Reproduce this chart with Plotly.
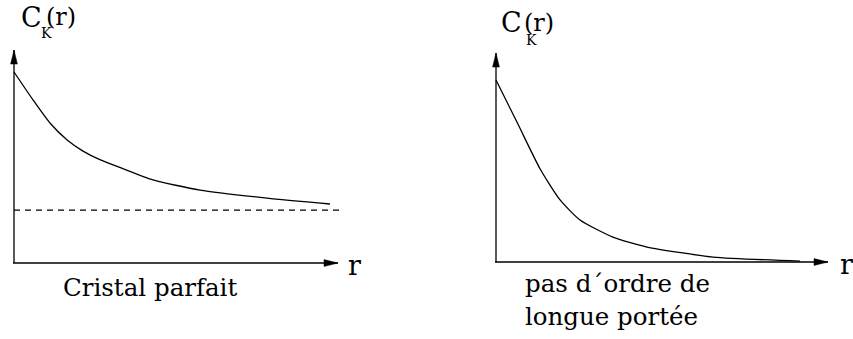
import plotly.graph_objects as go

W, H = 853, 339
FONT = "DejaVu Serif"
INK = "#000000"

# Correlation function C_K(r), perfect crystal (decays to a finite plateau)
r_crystal = [0.0, 0.59, 1.11, 1.64, 2.13, 2.65, 3.36, 4.29, 5.74, 7.81, 9.75]
c_crystal = [1.0, 0.853, 0.733, 0.644, 0.586, 0.541, 0.494, 0.435, 0.382, 0.340, 0.309]
plateau_r = [0.0, 10.06]
plateau_c = [0.277, 0.277]

# Correlation function C_K(r), no long-range order (decays to zero)
r_disorder = [0.0, 0.66, 1.33, 1.93, 2.53, 3.52, 4.55, 6.54, 9.16]
c_disorder = [1.0, 0.758, 0.511, 0.341, 0.231, 0.137, 0.082, 0.027, 0.005]

R_MAX = 10.0

# Panel geometry: origin in pixels, pixels per unit, axis extent
panels = [
    dict(ox=14, oy=263, sx=32.4, sy=191.0, cmax=1.115, xa="x", ya="y"),
    dict(ox=496, oy=262, sx=33.2, sy=182.0, cmax=1.148, xa="x2", ya="y2"),
]
PAD = 12

fig = go.Figure()
layout_axes = {}

for i, p in enumerate(panels):
    suffix = "" if i == 0 else str(i + 1)
    x_lo = -PAD / p["sx"]
    x_hi = R_MAX + PAD / p["sx"]
    y_lo = -PAD / p["sy"]
    y_hi = p["cmax"] + PAD / p["sy"]
    px_left = p["ox"] - PAD
    px_right = p["ox"] + R_MAX * p["sx"] + PAD
    py_bottom = p["oy"] + PAD
    py_top = p["oy"] - p["cmax"] * p["sy"] - PAD
    hidden = dict(showgrid=False, zeroline=False, showticklabels=False,
                  ticks="", showline=False, fixedrange=True)
    layout_axes["xaxis" + suffix] = dict(
        domain=[px_left / W, px_right / W], range=[x_lo, x_hi],
        anchor=p["ya"], **hidden)
    layout_axes["yaxis" + suffix] = dict(
        domain=[1 - py_bottom / H, 1 - py_top / H], range=[y_lo, y_hi],
        anchor=p["xa"], **hidden)

    line = dict(color=INK, width=1.3)
    # r axis
    fig.add_trace(go.Scatter(x=[-1.0 / p["sx"], R_MAX], y=[0, 0], mode="lines",
                             line=line, xaxis=p["xa"], yaxis=p["ya"],
                             hoverinfo="skip", showlegend=False))
    # C axis
    fig.add_trace(go.Scatter(x=[0, 0], y=[0, p["cmax"]], mode="lines",
                             line=line, xaxis=p["xa"], yaxis=p["ya"],
                             hoverinfo="skip", showlegend=False))
    # arrowheads (14 px long, 7 px wide)
    L, hw = 14.0, 3.4
    dx, dyw = L / p["sx"], hw / p["sy"]
    fig.add_trace(go.Scatter(
        x=[R_MAX, R_MAX - dx, R_MAX - dx, R_MAX],
        y=[0, dyw, -dyw, 0], mode="lines", fill="toself",
        fillcolor=INK, line=dict(color=INK, width=0.5),
        xaxis=p["xa"], yaxis=p["ya"], hoverinfo="skip", showlegend=False))
    dy, dxw = L / p["sy"], hw / p["sx"]
    fig.add_trace(go.Scatter(
        x=[0, dxw, -dxw, 0],
        y=[p["cmax"], p["cmax"] - dy, p["cmax"] - dy, p["cmax"]],
        mode="lines", fill="toself", fillcolor=INK,
        line=dict(color=INK, width=0.5),
        xaxis=p["xa"], yaxis=p["ya"], hoverinfo="skip", showlegend=False))

curve = dict(color=INK, width=1.3, shape="spline", smoothing=0.6)
fig.add_trace(go.Scatter(x=r_crystal, y=c_crystal, mode="lines", line=curve,
                         xaxis="x", yaxis="y", showlegend=False))
fig.add_trace(go.Scatter(x=plateau_r, y=plateau_c, mode="lines",
                         line=dict(color=INK, width=1.2, dash="6px,5px"),
                         xaxis="x", yaxis="y", showlegend=False))
fig.add_trace(go.Scatter(x=r_disorder, y=c_disorder, mode="lines", line=curve,
                         xaxis="x2", yaxis="y2", showlegend=False))


def label(text, px, py, size, xanchor="left"):
    fig.add_annotation(text=text, x=px / W, y=1 - py / H, xref="paper",
                       yref="paper", xanchor=xanchor, yanchor="middle",
                       showarrow=False, font=dict(family=FONT, size=size,
                                                  color=INK))


# C_K(r) axis titles
label("C", 19, 17, 27)
label("K", 39, 33, 14)
label("(r)", 44, 17, 24)
label("C", 499, 23, 27)
label("K", 524, 40, 14)
label("(r)", 522, 23, 24)

# r axis titles
label("r", 346, 265, 27)
label("r", 838, 264, 27)

# panel captions
label("Cristal parfait", 61, 287, 24.5)
label("pas d\u00b4ordre de", 523, 283, 24.5)
label("longue port\u00e9e", 523, 316, 24.5)

fig.update_layout(
    width=W, height=H, margin=dict(l=0, r=0, t=0, b=0),
    paper_bgcolor="white", plot_bgcolor="white",
    font=dict(family=FONT),
    **layout_axes,
)

fig.write_html("out.html")
